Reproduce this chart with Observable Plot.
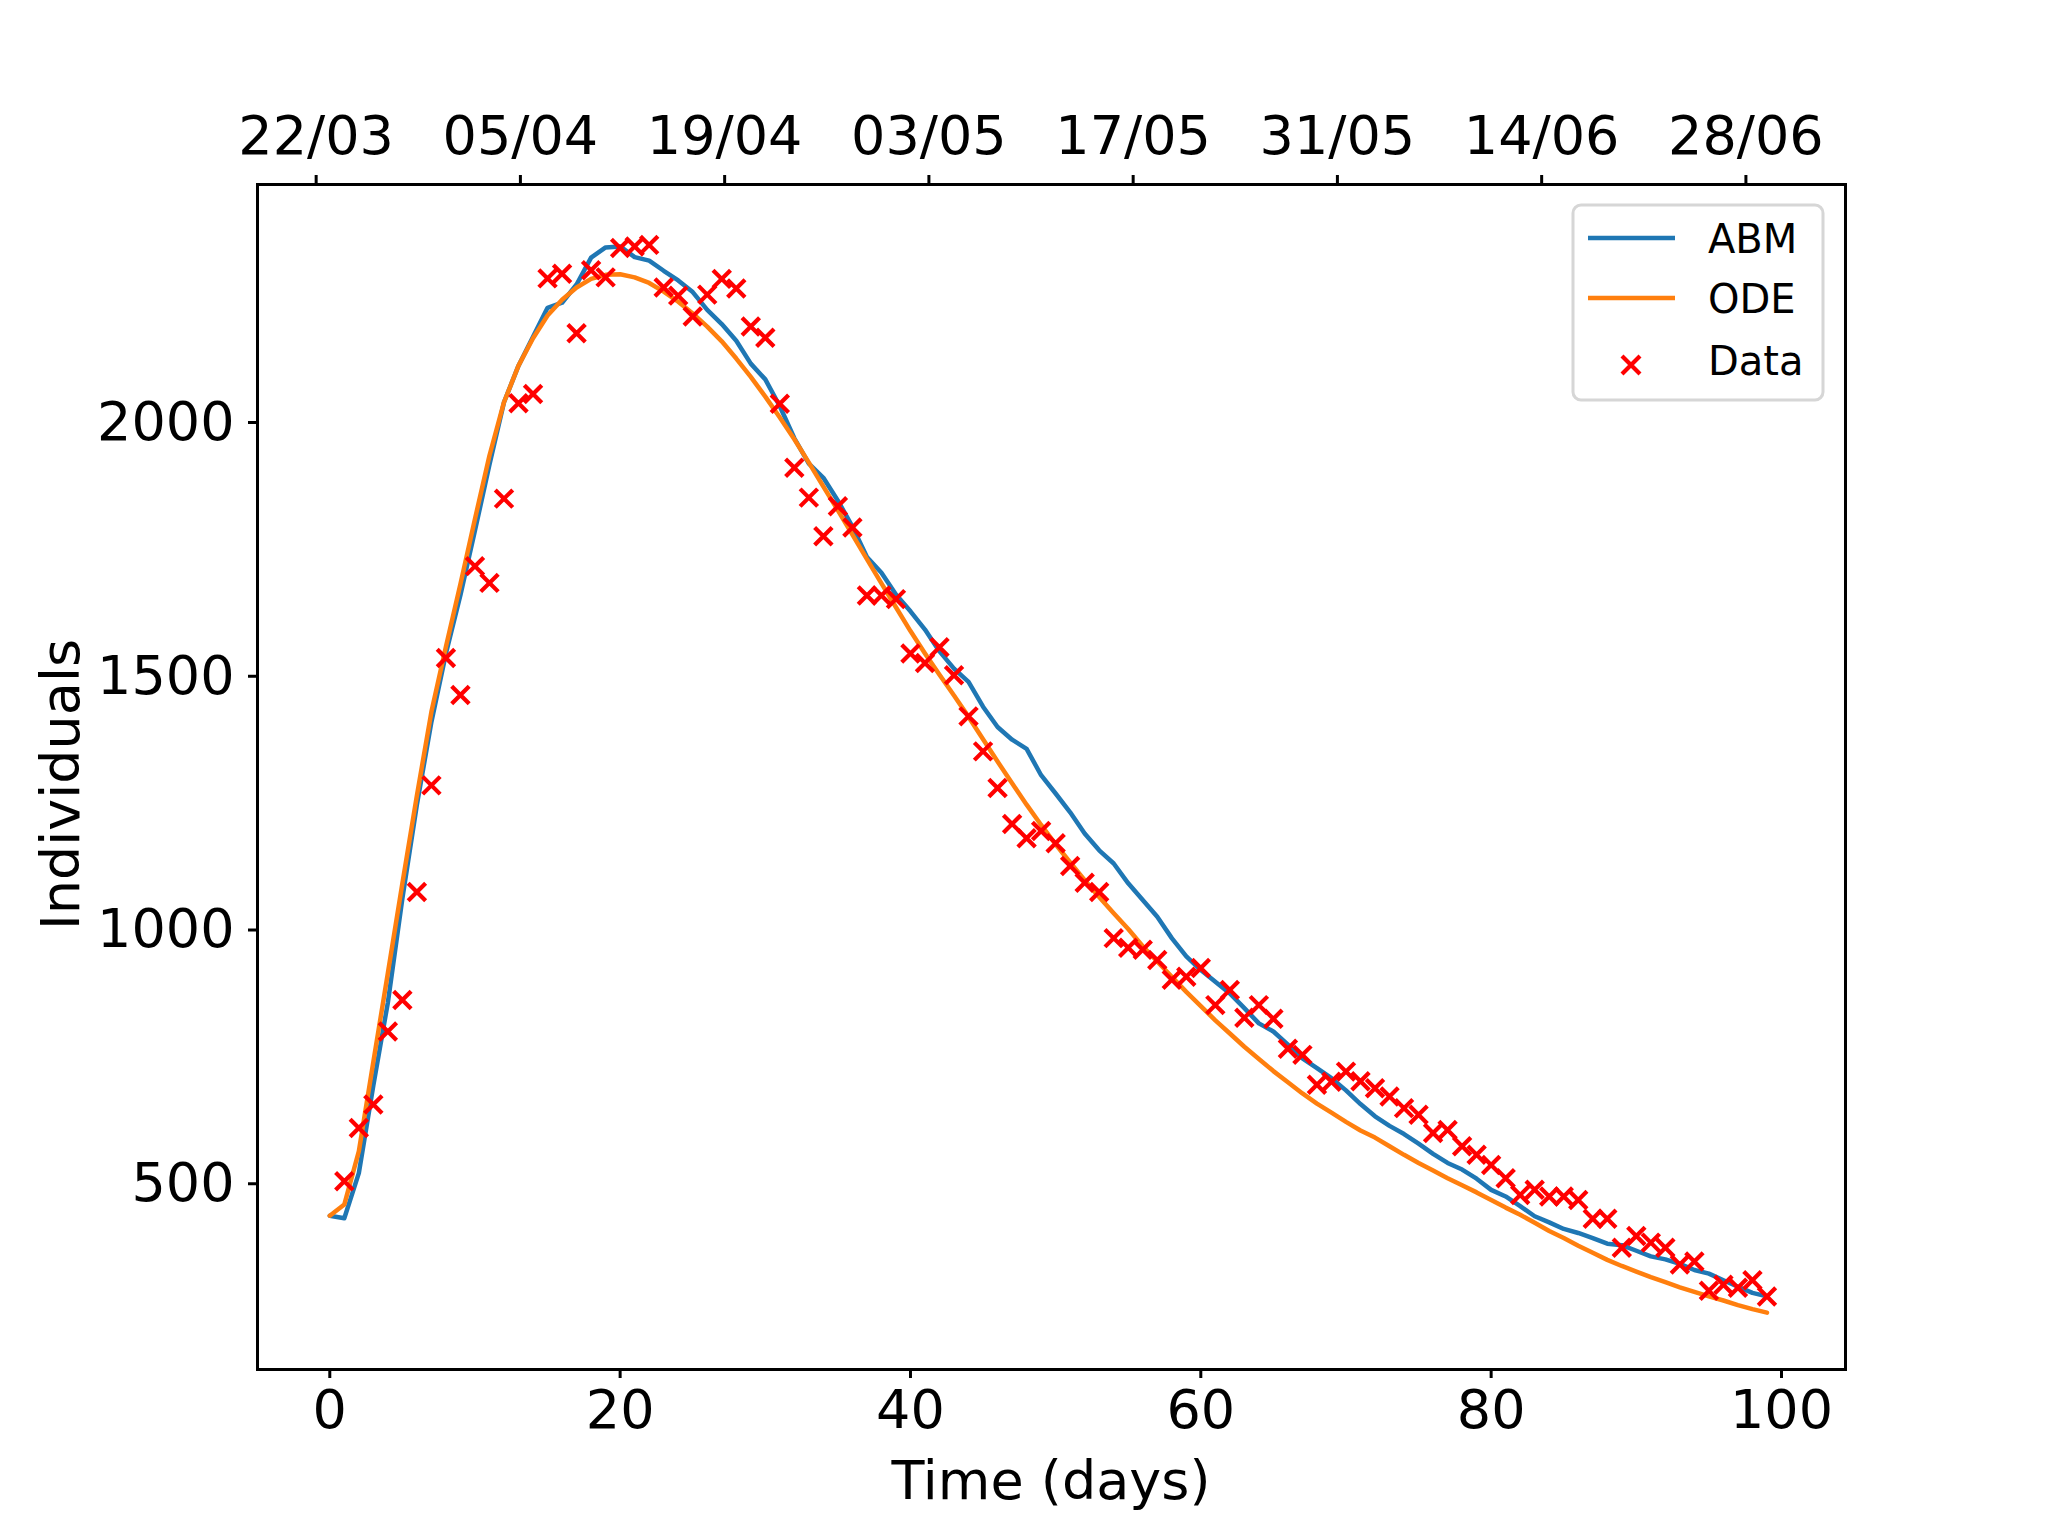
<!DOCTYPE html>
<html>
<head>
<meta charset="utf-8">
<script src="https://cdn.jsdelivr.net/npm/d3@7"></script>
<script src="https://cdn.jsdelivr.net/npm/@observablehq/plot@0.6"></script>
<style>
  html, body { margin: 0; padding: 0; background: white; }
  #chart { width: 2048px; height: 1536px; }
</style>
</head>
<body>
<div id="chart"></div>
<script>
// ---- data ----
const abm = [437, 432, 521, 694, 857, 1062, 1247, 1410, 1545, 1660,
  1787, 1917, 2040, 2112, 2169, 2226, 2236, 2272, 2325, 2345,
  2347, 2326, 2319, 2299, 2280, 2257, 2222, 2194, 2161, 2116,
  2085, 2032, 1969, 1919, 1891, 1846, 1795, 1735, 1704, 1661,
  1628, 1592, 1549, 1515, 1489, 1440, 1400, 1375, 1357, 1305,
  1269, 1232, 1190, 1157, 1131, 1092, 1059, 1026, 984, 948,
  921, 898, 875, 846, 816, 800, 774, 747, 728, 708,
  684, 657, 633, 614, 598, 579, 559, 541, 528, 510,
  488, 475, 456, 436, 424, 411, 403, 393, 382, 379,
  368, 357, 351, 342, 330, 323, 310, 297, 285, 278];

const ode = [437, 459, 564, 740, 915, 1092, 1265, 1430, 1558, 1682,
  1810, 1935, 2040, 2112, 2166, 2211, 2242, 2266, 2283, 2291,
  2292, 2286, 2275, 2258, 2238, 2215, 2189, 2160, 2126, 2090,
  2051, 2010, 1967, 1921, 1874, 1827, 1779, 1731, 1683, 1636,
  1589, 1545, 1503, 1462, 1420, 1376, 1332, 1289, 1247, 1207,
  1169, 1133, 1098, 1065, 1033, 1002, 968, 938, 908, 878,
  850, 822, 796, 770, 746, 722, 700, 678, 658, 640,
  622, 605, 591, 574, 557, 541, 526, 511, 497, 483,
  468, 453, 439, 423, 407, 393, 378, 364, 350, 338,
  327, 316, 306, 296, 287, 278, 270, 261, 253, 246];

// observed data, days 1..99
const observed = [505, 610, 656, 800, 862, 1075, 1285, 1536, 1463,
  1717, 1684, 1850, 2038, 2056, 2284, 2293, 2176, 2300, 2286,
  2344, 2347, 2350, 2266, 2250, 2209, 2252, 2283, 2264, 2189,
  2167, 2037, 1911, 1852, 1776, 1835, 1793, 1659, 1659, 1652,
  1545, 1526, 1557, 1502, 1421, 1352, 1280, 1209, 1181, 1195,
  1171, 1126, 1093, 1075, 984, 965, 961, 941, 902, 908,
  925, 852, 882, 827, 852, 825, 766, 754, 695, 701,
  721, 702, 688, 672, 649, 636, 600, 606, 574, 557,
  537, 511, 478, 488, 475, 475, 468, 431, 431, 374,
  397, 384, 374, 341, 347, 289, 301, 295, 310, 278];

const bottomTicks = [0, 20, 40, 60, 80, 100];
const leftTicks = [500, 1000, 1500, 2000];
const topTickLabels = ["22/03", "05/04", "19/04", "03/05", "17/05", "31/05", "14/06", "28/06"];
const topTickDays = [-0.94, 13.13, 27.2, 41.27, 55.34, 69.41, 83.48, 97.55];

const seriesNames = ["ABM", "ODE", "Data"];
const colors = {ABM: "#1f77b4", ODE: "#ff7f0e", Data: "#ff0000"};

// ---- tables ----
const lineRows = [
  ...abm.map((v, i) => ({day: i, value: v, series: "ABM"})),
  ...ode.map((v, i) => ({day: i, value: v, series: "ODE"}))
];
const dataRows = observed.map((v, i) => ({day: i + 1, value: v}));

const W = 2048, H = 1536;
const mL = 257, mR = 203, mT = 184, mB = 167;

const plot = Plot.plot({
  width: W,
  height: H,
  marginLeft: mL,
  marginRight: mR,
  marginTop: mT,
  marginBottom: mB,
  style: {fontFamily: "'DejaVu Sans', sans-serif", fontSize: "54px", background: "white", color: "black"},
  x: {domain: [-4.98, 104.41]},
  y: {domain: [134, 2469]},
  marks: [
    Plot.line(lineRows.filter(d => d.series === "ABM"), {x: "day", y: "value", stroke: colors.ABM, strokeWidth: 4.5, strokeLinejoin: "round"}),
    Plot.line(lineRows.filter(d => d.series === "ODE"), {x: "day", y: "value", stroke: colors.ODE, strokeWidth: 4.5, strokeLinejoin: "round"}),
    Plot.dot(dataRows, {x: "day", y: "value", symbol: "times", r: 8, stroke: colors.Data, strokeWidth: 4.2}),
    Plot.axisX({anchor: "bottom", ticks: bottomTicks, tickSize: 9, tickPadding: 11, strokeWidth: 3, label: null, tickFormat: d => String(d)}),
    Plot.axisX({anchor: "top", ticks: topTickDays, tickSize: 10, tickPadding: 21, strokeWidth: 3, label: null,
      tickFormat: d => topTickLabels[topTickDays.indexOf(d)]}),
    Plot.axisY({anchor: "left", ticks: leftTicks, tickSize: 9, tickPadding: 14, strokeWidth: 3, label: null, tickFormat: d => String(d)}),
    Plot.frame({stroke: "black", strokeWidth: 3})
  ]
});

document.getElementById("chart").appendChild(plot);

// ---- axis titles and legend (layout text) ----
const svg = d3.select(plot);
const ff = "'DejaVu Sans', sans-serif";
const cx = mL + (W - mL - mR) / 2;
const cy = mT + (H - mT - mB) / 2;

svg.append("text")
  .attr("x", cx).attr("y", 1499)
  .attr("text-anchor", "middle")
  .attr("font-family", ff).attr("font-size", 54).attr("fill", "black")
  .text("Time (days)");

svg.append("text")
  .attr("transform", `translate(79,${cy + 8}) rotate(-90)`)
  .attr("text-anchor", "middle")
  .attr("font-family", ff).attr("font-size", 54).attr("fill", "black")
  .text("Individuals");

const lg = svg.append("g");
lg.append("rect")
  .attr("x", 1573).attr("y", 205).attr("width", 250).attr("height", 195)
  .attr("rx", 8).attr("ry", 8)
  .attr("fill", "white").attr("fill-opacity", 0.8)
  .attr("stroke", "#d6d6d6").attr("stroke-width", 3);

const rowY = [238, 298, 365];
const textY = [253, 313, 375];
seriesNames.forEach((name, i) => {
  if (name === "Data") {
    const s = 9;
    lg.append("path")
      .attr("d", `M${1631 - s},${rowY[i] - s}L${1631 + s},${rowY[i] + s}M${1631 - s},${rowY[i] + s}L${1631 + s},${rowY[i] - s}`)
      .attr("stroke", colors[name]).attr("stroke-width", 4.2).attr("fill", "none");
  } else {
    lg.append("line")
      .attr("x1", 1588).attr("x2", 1675).attr("y1", rowY[i]).attr("y2", rowY[i])
      .attr("stroke", colors[name]).attr("stroke-width", 4.5);
  }
  lg.append("text")
    .attr("x", 1708).attr("y", textY[i])
    .attr("text-anchor", "start")
    .attr("font-family", ff).attr("font-size", 40).attr("fill", "black")
    .text(name);
});
</script>
</body>
</html>
